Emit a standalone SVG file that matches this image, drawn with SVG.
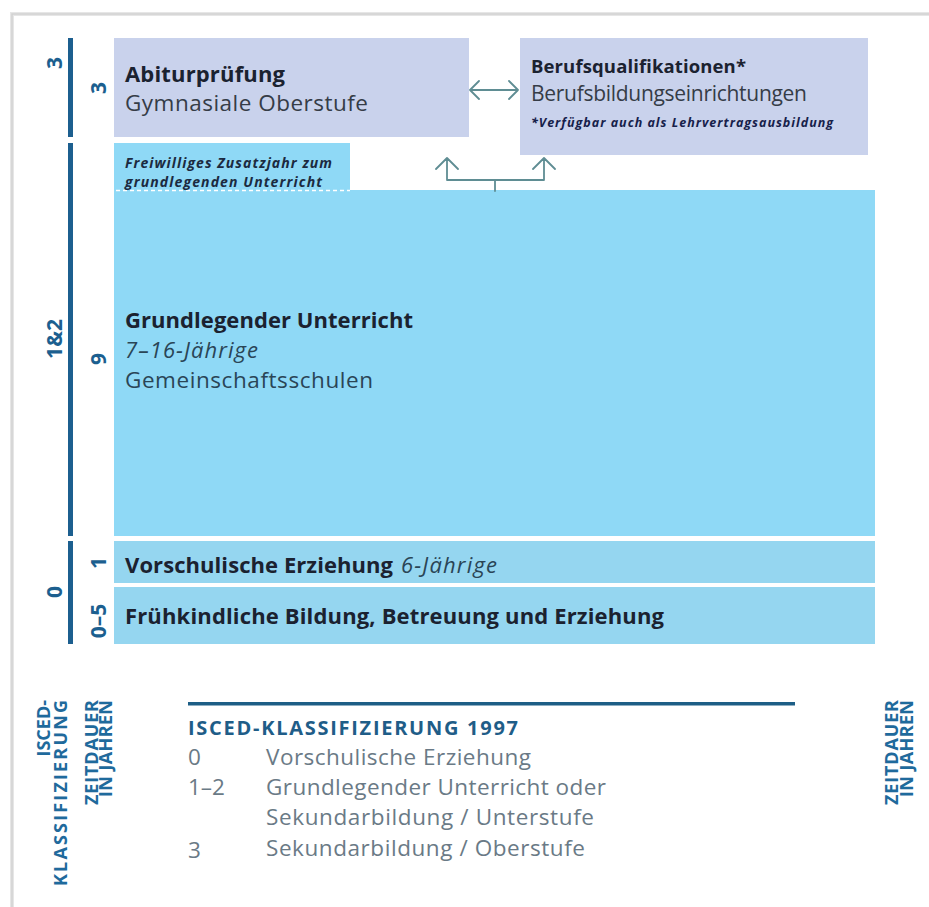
<svg xmlns="http://www.w3.org/2000/svg" width="929" height="907" viewBox="0 0 929 907">
<style>
text{font-family:"Open Sans","Noto Sans","Liberation Sans",sans-serif}
.b{font-weight:700}
.i{font-style:italic}
.dk{fill:#1b2230}
.gr{fill:#353c47}
.tl{fill:#2a4556}
.lav{fill:#c9d2ec}
.sky{fill:#8fd9f6}
.band{fill:#95d6f0}
.bar{fill:#1c5f8f}
.num{font-weight:700;font-size:21px;fill:#1c5f8f;text-anchor:middle}
.leg{font-weight:700;font-size:18px;fill:#1f6a9c;text-anchor:end}
.lt{font-size:22.5px;fill:#6a7a86}
.con{fill:none;stroke:#5f8d93;stroke-width:1.8;stroke-linecap:round;stroke-linejoin:round}
</style>
<rect width="929" height="907" fill="#ffffff"/>
<g id="frame">
<path d="M12,907 V14 H929" fill="none" stroke="#e6e6e6" stroke-width="4"/>
<path d="M12,907 V14 H929" fill="none" stroke="#d2d2d2" stroke-width="1.5"/>
</g>
<g id="scale-bars">
<rect class="bar" x="68" y="38" width="5" height="99"/>
<rect class="bar" x="68" y="143" width="5" height="393"/>
<rect class="bar" x="68" y="541" width="5" height="103"/>
<text class="num" transform="translate(62,63) rotate(-90)">3</text>
<text class="num" transform="translate(62,339) rotate(-90)">1&amp;2</text>
<text class="num" transform="translate(62,592) rotate(-90)">0</text>
<text class="num" transform="translate(106,88) rotate(-90)">3</text>
<text class="num" transform="translate(106,359) rotate(-90)">9</text>
<text class="num" transform="translate(106,563) rotate(-90)">1</text>
<text class="num" transform="translate(106,621) rotate(-90)">0–5</text>
</g>
<g id="abitur">
<rect class="lav" x="114" y="38" width="355" height="99"/>
<text class="b dk" x="125" y="82" font-size="22" textLength="160">Abiturprüfung</text>
<text class="gr" x="125" y="111" font-size="22.5" textLength="243">Gymnasiale Oberstufe</text>
</g>
<g id="berufs">
<rect class="lav" x="520" y="38" width="348" height="117"/>
<text class="b dk" x="531" y="73" font-size="18.5" textLength="215">Berufsqualifikationen*</text>
<text class="gr" x="531" y="101" font-size="21" textLength="276">Berufsbildungseinrichtungen</text>
<text class="b i" x="531" y="127" font-size="12.5" fill="#16204a" textLength="302">*Verfügbar auch als Lehrvertragsausbildung</text>
</g>
<g id="grundlegend">
<rect class="sky" x="114" y="190" width="761" height="346"/>
<text class="b dk" x="125" y="328" font-size="22" textLength="288">Grundlegender Unterricht</text>
<text class="i tl" x="125" y="358" font-size="22" textLength="133">7–16-Jährige</text>
<text class="tl" x="125" y="388" font-size="22.5" textLength="248">Gemeinschaftsschulen</text>
</g>
<g id="zusatzjahr">
<rect class="sky" x="114" y="143" width="236" height="49"/>
<line x1="116" y1="190.5" x2="350" y2="190.5" stroke="#ffffff" stroke-width="1.5" stroke-dasharray="4 3"/>
<text class="b i" x="125" y="168" font-size="14" fill="#1b2a40" textLength="207">Freiwilliges Zusatzjahr zum</text>
<text class="b i" x="125" y="187" font-size="14" fill="#1b2a40" textLength="197">grundlegenden Unterricht</text>
</g>
<g id="vorschule">
<rect class="band" x="114" y="541" width="761" height="42"/>
<text x="125" y="573" font-size="22"><tspan class="b dk" textLength="268">Vorschulische Erziehung</tspan><tspan class="i tl" x="401" textLength="96">6-Jährige</tspan></text>
</g>
<g id="fruehkindlich">
<rect class="band" x="114" y="587" width="761" height="57"/>
<text class="b dk" x="125" y="624" font-size="22" textLength="539">Frühkindliche Bildung, Betreuung und Erziehung</text>
</g>
<g id="connectors">
<path class="con" d="M470,90 H518 M479,81 L470,90 L479,99 M509,81 L518,90 L509,99"/>
<path class="con" d="M495,191 V180 M447,180 H544 M447,180 V158 M436,169 L447,158 L458,169 M544,180 V158 M533,169 L544,158 L555,169"/>
</g>
<g id="legend">
<rect x="188" y="702" width="607" height="3.5" fill="#1d5e86"/>
<text class="b" x="188" y="735" font-size="20" fill="#1f5d88" textLength="330">ISCED-KLASSIFIZIERUNG 1997</text>
<text class="lt" x="188" y="765" font-size="17">0</text>
<text class="lt" x="266" y="765" textLength="265">Vorschulische Erziehung</text>
<text class="lt" x="188" y="795" font-size="19">1–2</text>
<text class="lt" x="266" y="795" textLength="340">Grundlegender Unterricht oder</text>
<text class="lt" x="266" y="825" textLength="328">Sekundarbildung / Unterstufe</text>
<text class="lt" x="188" y="858" font-size="20">3</text>
<text class="lt" x="266" y="856" textLength="319">Sekundarbildung / Oberstufe</text>
<text class="leg" transform="translate(50,700) rotate(-90)">ISCED-</text>
<text class="leg" transform="translate(67,700) rotate(-90)" textLength="186">KLASSIFIZIERUNG</text>
<text class="leg" transform="translate(98,700) rotate(-90)" textLength="105">ZEITDAUER</text>
<text class="leg" transform="translate(112,700) rotate(-90)" textLength="97">IN JAHREN</text>
<text class="leg" transform="translate(898,700) rotate(-90)" textLength="105">ZEITDAUER</text>
<text class="leg" transform="translate(913,700) rotate(-90)" textLength="97">IN JAHREN</text>
</g>
</svg>
